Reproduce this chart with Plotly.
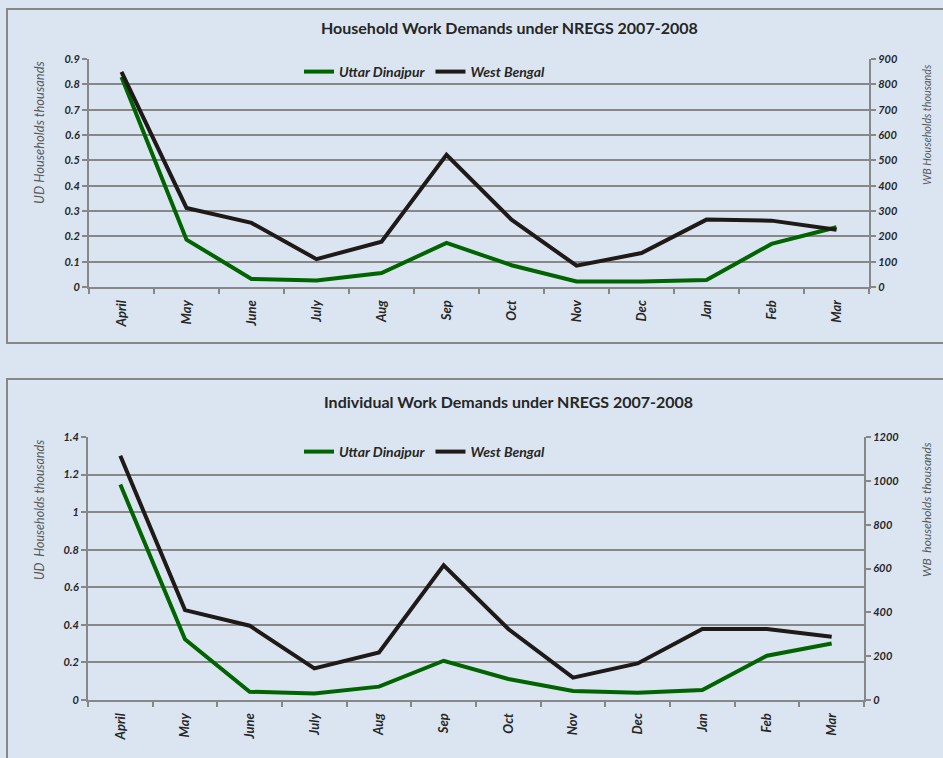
import plotly.graph_objects as go

months = ["April", "May", "June", "July", "Aug", "Sep", "Oct", "Nov", "Dec", "Jan", "Feb", "Mar"]

# Household work demands (thousands)
hh_ud = [0.829, 0.187, 0.032, 0.026, 0.055, 0.174, 0.086, 0.022, 0.022, 0.028, 0.170, 0.236]
hh_wb = [849, 312, 253, 110, 179, 522, 266, 84, 134, 266, 262, 226]

# Individual work demands (thousands)
ind_ud = [1.147, 0.323, 0.044, 0.035, 0.071, 0.209, 0.112, 0.048, 0.039, 0.053, 0.236, 0.301]
ind_wb = [1114, 410, 339, 144, 217, 615, 324, 102, 167, 324, 324, 289]

GREEN = "#006400"
BLACK = "#1f1a17"
GRID = "#878787"
BG = "#dbe5f1"
FONT = "Lato"

fig = go.Figure()

fig.add_trace(go.Scatter(x=months, y=hh_ud, name="Uttar Dinajpur", mode="lines",
                         line=dict(color=GREEN, width=4), xaxis="x", yaxis="y", legend="legend"))
fig.add_trace(go.Scatter(x=months, y=hh_wb, name="West Bengal", mode="lines",
                         line=dict(color=BLACK, width=4), xaxis="x", yaxis="y2", legend="legend"))
fig.add_trace(go.Scatter(x=months, y=ind_ud, name="Uttar Dinajpur", mode="lines",
                         line=dict(color=GREEN, width=4), xaxis="x2", yaxis="y3", legend="legend2"))
fig.add_trace(go.Scatter(x=months, y=ind_wb, name="West Bengal", mode="lines",
                         line=dict(color=BLACK, width=4), xaxis="x2", yaxis="y4", legend="legend2"))

ytickfont = dict(family=FONT, size=11, color="#262626", weight="bold", style="italic")
xtickfont = dict(family=FONT, size=13, color="#262626", weight="bold", style="italic")
legfont = dict(family=FONT, size=14, color="#262626", weight="bold", style="italic")

xcommon = dict(type="category", tickson="boundaries", ticks="outside", ticklen=5,
               range=[-0.5, 11.5], automargin=False, ticklabelstandoff=6,
               tickcolor=GRID, tickwidth=2, showline=True, linecolor=GRID, linewidth=2,
               tickangle=-90, tickfont=xtickfont, showgrid=False, zeroline=False)
ycommon = dict(showline=True, linecolor=GRID, linewidth=2, ticks="outside", ticklen=5,
               automargin=False,
               tickcolor=GRID, tickwidth=2, tickfont=ytickfont, zeroline=False)

W, H = 943, 758


def px(x):
    return x / W


def py(y):
    return 1 - y / H


fig.update_layout(
    width=W, height=H,
    margin=dict(l=0, r=0, t=0, b=0, autoexpand=False),
    paper_bgcolor=BG, plot_bgcolor=BG,
    font=dict(family=FONT, color="#262626"),
    xaxis=dict(domain=[px(89), px(869)], anchor="y", **xcommon),
    yaxis=dict(domain=[py(287), py(59)], range=[0, 0.9], dtick=0.1, anchor="x",
               showgrid=True, gridcolor=GRID, gridwidth=2, **ycommon),
    yaxis2=dict(range=[0, 900], dtick=100, overlaying="y", side="right", anchor="x",
                showgrid=False, **ycommon),
    xaxis2=dict(domain=[px(88), px(864)], anchor="y3", **xcommon),
    yaxis3=dict(domain=[py(700), py(437)], range=[0, 1.4], dtick=0.2, anchor="x2",
                showgrid=True, gridcolor=GRID, gridwidth=2, **ycommon),
    yaxis4=dict(range=[0, 1200], dtick=200, overlaying="y3", side="right", anchor="x2",
                showgrid=False, **ycommon),
    legend=dict(orientation="h", x=px(299), y=py(72), xanchor="left", yanchor="middle",
                bgcolor="rgba(0,0,0,0)", font=legfont, itemwidth=30),
    legend2=dict(orientation="h", x=px(299), y=py(452), xanchor="left", yanchor="middle",
                 bgcolor="rgba(0,0,0,0)", font=legfont, itemwidth=30),
    showlegend=True,
)

# panel borders
fig.add_shape(type="rect", xref="paper", yref="paper", x0=px(7), x1=px(950), y0=py(343), y1=py(9),
              line=dict(color=GRID, width=2), layer="below")
fig.add_shape(type="rect", xref="paper", yref="paper", x0=px(7), x1=px(950), y0=py(770), y1=py(379),
              line=dict(color=GRID, width=2), layer="below")

titlefont = dict(family=FONT, size=16, color="#262626", weight="bold")
axtitlefont = dict(family=FONT, color="#595959", style="italic")

annotations = [
    dict(text="Household Work Demands under NREGS 2007-2008", x=px(509), y=py(27), font=titlefont),
    dict(text="Individual Work Demands under NREGS 2007-2008", x=px(508), y=py(401), font=titlefont),
    dict(text="UD Households thousands", x=px(39), y=py(133), textangle=-90,
         font=dict(axtitlefont, size=13)),
    dict(text="WB Households thousands", x=px(926), y=py(125), textangle=-90,
         font=dict(axtitlefont, size=10.8)),
    dict(text="UD  Households thousands", x=px(39), y=py(510), textangle=-90,
         font=dict(axtitlefont, size=12.5)),
    dict(text="WB  households thousands", x=px(926), y=py(510), textangle=-90,
         font=dict(axtitlefont, size=12)),
]
for a in annotations:
    fig.add_annotation(xref="paper", yref="paper", showarrow=False, xanchor="center",
                       yanchor="middle", **a)

fig.write_html("out.html", config={"displayModeBar": False},
               post_script="document.body.style.margin='0px';")
